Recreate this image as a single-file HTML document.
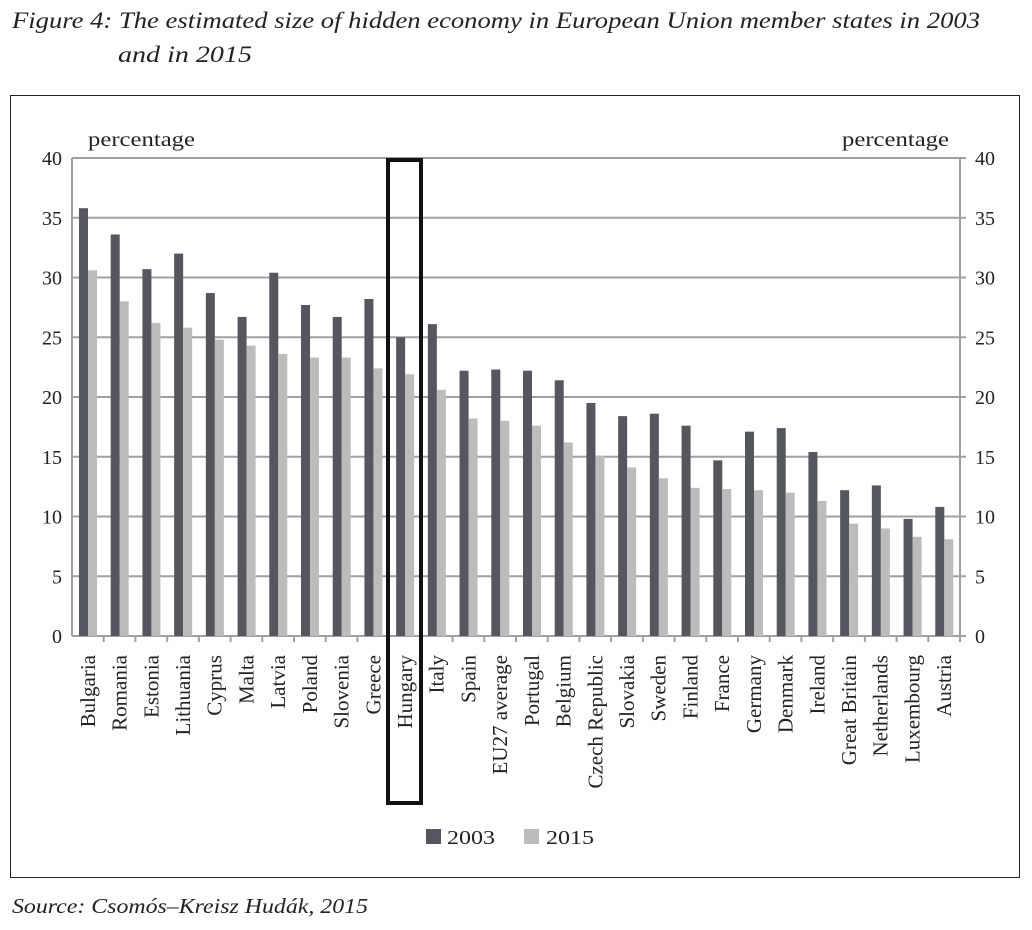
<!DOCTYPE html>
<html><head><meta charset="utf-8"><style>
body{margin:0;background:#fff;}
svg{display:block;font-family:"Liberation Serif",serif;}
</style></head><body>
<svg width="1032" height="930" viewBox="0 0 1032 930" xmlns="http://www.w3.org/2000/svg">
<text x="12" y="28" font-size="23" font-style="italic" fill="#222" textLength="968" lengthAdjust="spacingAndGlyphs">Figure 4: The estimated size of hidden economy in European Union member states in 2003</text>
<text x="118" y="62" font-size="23" font-style="italic" fill="#222" textLength="134" lengthAdjust="spacingAndGlyphs">and in 2015</text>
<rect x="10.5" y="95.5" width="1009" height="782" fill="none" stroke="#222" stroke-width="1"/>
<text x="88" y="146" font-size="20" fill="#222" textLength="107" lengthAdjust="spacingAndGlyphs">percentage</text>
<text x="842" y="146" font-size="20" fill="#222" textLength="107" lengthAdjust="spacingAndGlyphs">percentage</text>
<g id="grid"></g>
<g id="bars"></g>
<g id="labels" font-size="21" fill="#222"></g>
<rect x="388" y="160" width="33" height="643" fill="none" stroke="#111" stroke-width="4"/>
<rect x="426" y="829" width="15" height="15" fill="#56565e"/>
<text x="447" y="844" font-size="20" fill="#222" textLength="48" lengthAdjust="spacingAndGlyphs">2003</text>
<rect x="524" y="829" width="15" height="15" fill="#bcbcbc"/>
<text x="546" y="844" font-size="20" fill="#222" textLength="48" lengthAdjust="spacingAndGlyphs">2015</text>
<text x="12" y="913" font-size="21" font-style="italic" fill="#222" textLength="356" lengthAdjust="spacingAndGlyphs">Source: Csomós–Kreisz Hudák, 2015</text>
</svg>
<script>
const ns="http://www.w3.org/2000/svg";
function el(p,t,a,txt){const e=document.createElementNS(ns,t);for(const k in a)e.setAttribute(k,a[k]);if(txt!==undefined)e.textContent=txt;document.getElementById(p).appendChild(e);}
const L=72,R=960,T=158,B=636,u=(B-T)/40;
for(let v=0;v<=40;v+=5){const y=B-v*u;
el("grid","line",{x1:L,x2:R,y1:y,y2:y,stroke:"#a0a0a0","stroke-width":2});
el("grid","line",{x1:R,x2:R+6,y1:y,y2:y,stroke:"#a0a0a0","stroke-width":2});
el("grid","text",{x:62,y:y+7,"font-size":20,"text-anchor":"end",fill:"#222"},v);
el("grid","text",{x:975,y:y+7,"font-size":20,fill:"#222"},v);}
el("grid","line",{x1:L,x2:L,y1:T,y2:B,stroke:"#a0a0a0","stroke-width":2});
el("grid","line",{x1:R,x2:R,y1:T,y2:B,stroke:"#a0a0a0","stroke-width":2});
const d=[["Bulgaria",35.8,30.6],["Romania",33.6,28.0],["Estonia",30.7,26.2],["Lithuania",32.0,25.8],["Cyprus",28.7,24.8],["Malta",26.7,24.3],["Latvia",30.4,23.6],["Poland",27.7,23.3],["Slovenia",26.7,23.3],["Greece",28.2,22.4],["Hungary",25.0,21.9],["Italy",26.1,20.6],["Spain",22.2,18.2],["EU27 average",22.3,18.0],["Portugal",22.2,17.6],["Belgium",21.4,16.2],["Czech Republic",19.5,15.1],["Slovakia",18.4,14.1],["Sweden",18.6,13.2],["Finland",17.6,12.4],["France",14.7,12.3],["Germany",17.1,12.2],["Denmark",17.4,12.0],["Ireland",15.4,11.3],["Great Britain",12.2,9.4],["Netherlands",12.6,9.0],["Luxembourg",9.8,8.3],["Austria",10.8,8.1]];
const w=(R-L)/28;
d.forEach((r,i)=>{const x0=L+i*w;
el("grid","line",{x1:x0+w,x2:x0+w,y1:B,y2:B+6,stroke:"#a0a0a0","stroke-width":2});
el("bars","rect",{x:x0+7,y:B-r[1]*u,width:9,height:r[1]*u,fill:"#56565e"});
el("bars","rect",{x:x0+16,y:B-r[2]*u,width:9,height:r[2]*u,fill:"#bcbcbc"});
const cx=x0+w/2+7;
el("labels","text",{x:cx,y:655,transform:`rotate(-90 ${cx} 655)`,"text-anchor":"end"},r[0]);});
</script>
</body></html>
